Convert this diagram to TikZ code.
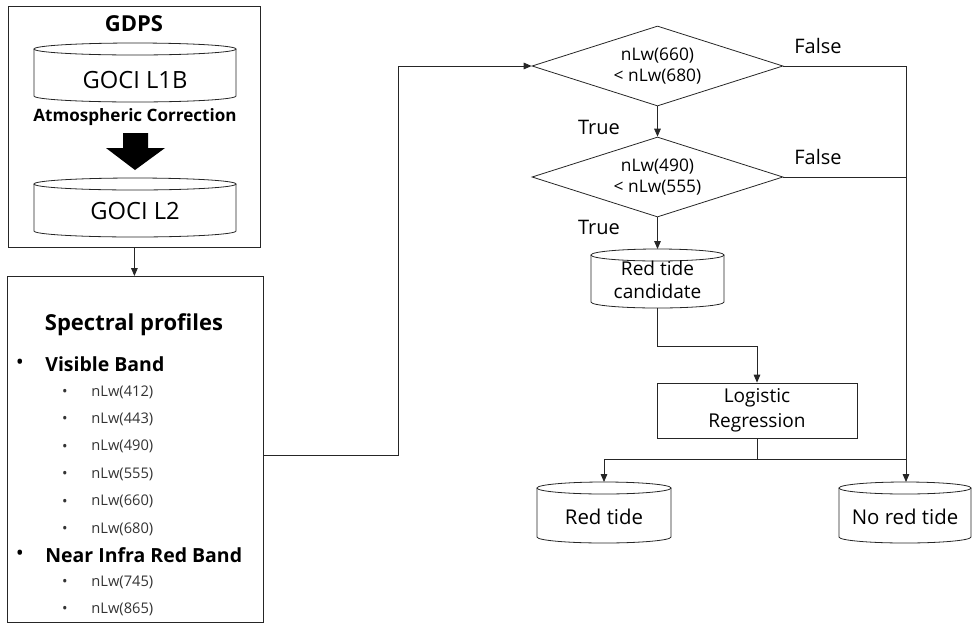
\documentclass[tikz,border=0pt]{standalone}
\usepackage{fontspec}
\setmainfont{Open Sans}
\usetikzlibrary{shapes.geometric,arrows.meta,calc}
\newcommand\mycyl[5]{%
 \pgfmathsetmacro\cylhw{#5/2}%
 \pgfmathsetmacro\cyla{#3+6}%
 \pgfmathsetmacro\cylb{#4-6}%
 \pgfmathsetmacro\cyll{#2-#5/2}%
 \pgfmathsetmacro\cylr{#2+#5/2}%
 \coordinate (#1-top) at (#2,#3);
 \coordinate (#1-bot) at (#2,#4);
 \draw[ln] (#2,\cyla) ellipse [x radius=\cylhw*0.75pt, y radius=4.5pt];
 \draw[ln] (\cyll,\cyla) -- (\cyll,\cylb) arc[start angle=180,end angle=360,x radius=\cylhw*0.75pt,y radius=4.5pt] -- (\cylr,\cyla);
}
\begin{document}
\begin{tikzpicture}[x=0.75pt,y=-0.75pt,line width=0.6pt,
 ln/.style={draw=black!85},
 arr/.style={ln,-{Triangle[length=6pt,width=5pt]}},
 cond/.style={diamond,ln,minimum width=251*0.75pt,minimum height=80*0.75pt,inner sep=0pt,aspect=3.1,align=center,font=\fontsize{13}{15.75}\selectfont},
 bigtxt/.style={font=\fontsize{17.8}{19}\selectfont},
 midtxt/.style={font=\fontsize{14.3}{17.25}\selectfont,align=center},
 lab/.style={font=\fontsize{15}{18}\selectfont},
 bul1/.style={font=\fontsize{16}{15}\selectfont,inner sep=0pt},
 b1txt/.style={font=\bfseries\fontsize{14.6}{15}\selectfont,anchor=west,inner sep=0pt},
 b2/.style={font=\fontsize{11}{11}\selectfont,inner sep=0pt,text=black!80},
 it/.style={font=\fontsize{11}{11}\selectfont,anchor=west,inner sep=0pt,text height=0.75em,text depth=0.25em,text=black!80},
]
\useasboundingbox (0,0) rectangle (972,633);
% GDPS block
\node[ln,draw,anchor=north west,minimum width=252*0.75pt,minimum height=241*0.75pt,inner sep=0pt] (gdps) at (8,6) {};
\node[font=\bfseries\fontsize{16.5}{18}\selectfont] (gdpst) at (134,24) {GDPS};
\mycyl{l1b}{135}{43}{102}{202}
\node[bigtxt] (l1bt) at (135,80) {GOCI L1B};
\node[font=\bfseries\fontsize{12.8}{14}\selectfont] (atm) at (135,117) {Atmospheric Correction};
\fill[black] (123,133) -- (148,133) -- (148,148) -- (165,148) -- (135,170) -- (106,148) -- (123,148) -- cycle;
\mycyl{l2}{135}{178}{237}{202}
\node[bigtxt] (l2t) at (135,211) {GOCI L2};
% Spectral block
\node[ln,draw,anchor=north west,minimum width=256*0.75pt,minimum height=346*0.75pt,inner sep=0pt] (spec) at (7,276) {};
\draw[arr] (gdps.south) -- (gdps.south |- spec.north);
\node[font=\bfseries\fontsize{16.5}{18}\selectfont] (spt) at (134,325) {Spectral profiles};
\node[bul1] (bv) at (20,364) {•};
\node[b1txt] (vis) at (45,364) {Visible Band};
\node[bul1] (bn) at (20,555) {•};
\node[b1txt] (nir) at (45,555) {Near Infra Red Band};
\foreach \yy/\tt [count=\i] in {393/412,420/443,447.5/490,475/555,502.5/660,530/680,583/745,610/865}{
  \node[b2] (b\i) at (65,\yy) {•};
  \node[it] (i\i) at (91,\yy) {nLw(\tt)};
}
% Flowchart
\node[cond] (d1) at (657.5,66) {nLw(660)\\< nLw(680)};
\node[cond] (d2) at (657.5,177) {nLw(490)\\< nLw(555)};
\coordinate (specout) at (263,455);
\coordinate (jog) at (398,66);
\draw[arr] (specout) -| (jog) -- (d1.west);
\draw[arr] (d1.south) -- (d2.north);
\node[lab] (t1) at (599,127) {True};
\mycyl{cand}{657.5}{249}{308}{133}
\node[midtxt] (candt) at (657.5,280) {Red tide\\candidate};
\draw[arr] (d2.south) -- (cand-top);
\node[lab] (t2) at (599,227) {True};
\node[ln,draw,minimum width=200*0.75pt,minimum height=55*0.75pt,inner sep=0pt,font=\fontsize{14.3}{18.75}\selectfont,align=center] (logi) at (757,410.5) {Logistic\\Regression};
\coordinate (c1) at (757,346);
\draw[arr] (cand-bot) |- (c1) -- (logi.north);
\mycyl{red}{604}{482}{543}{134}
\node[font=\fontsize{15.3}{17}\selectfont] (redt) at (604,517) {Red tide};
\mycyl{nored}{905}{482}{543}{132}
\node[font=\fontsize{15.3}{17}\selectfont] (noredt) at (905,517) {No red tide};
\coordinate (split) at (757,459);
\coordinate (fx) at (906,66);
\coordinate (join) at (906,459);
\draw[arr] (logi.south) -- (split) -| (red-top);
\draw[ln] (split) -- (join);
\draw[arr] (d1.east) -- (fx) -- (fx |- nored-top);
\draw[ln] (d2.east) -- (d2.east -| fx);
\node[lab] (f1) at (818,46) {False};
\node[lab] (f2) at (818,157) {False};
\end{tikzpicture}
\end{document}
